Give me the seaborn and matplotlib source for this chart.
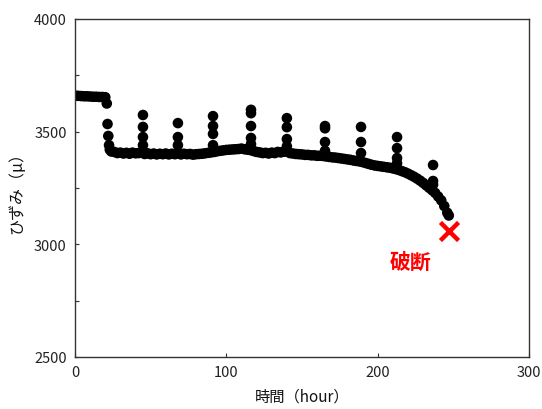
import matplotlib
matplotlib.use("Agg")
import matplotlib.pyplot as plt
import seaborn as sns
import pandas as pd
from matplotlib.ticker import MultipleLocator

# ---- data ----
base_time = [0, 2, 4, 6, 8, 10, 12, 14, 16, 18, 20,
             21, 21.5, 22, 22.5, 23, 24,
             26, 28, 30, 32, 34, 36, 38, 40, 42, 44, 46, 48, 50, 52, 54, 56, 58, 60,
             62, 64, 66, 68, 70, 72, 74, 76, 78, 80, 82, 84, 86, 88, 90, 92, 94, 96,
             98, 100, 102, 104, 106, 108, 110, 112, 114, 116, 118, 120, 122, 124, 126,
             128, 130, 132, 134, 136, 138, 140, 142, 144, 146, 148, 150, 152, 154, 156,
             158, 160, 162, 164, 166, 168, 170, 172, 174, 176, 178, 180, 182, 184, 186,
             188, 190, 192, 194, 196, 198, 200, 202, 204, 206, 208, 210, 212, 214, 216,
             218, 220, 222, 224, 226, 228, 230, 232, 234, 236, 238, 240, 242, 244, 246, 247]
base_strain = [3660, 3659, 3658, 3657, 3657, 3656, 3655, 3655, 3654, 3654, 3653,
               3625, 3534, 3481, 3440, 3420, 3412,
               3410, 3405, 3407, 3403, 3406, 3402, 3407, 3404, 3405, 3408, 3401, 3404, 3400, 3403, 3399, 3402, 3400, 3403,
               3399, 3402, 3400, 3403, 3399, 3402, 3400, 3401, 3398, 3400, 3401, 3402, 3404, 3406, 3408, 3410, 3413, 3415,
               3417, 3419, 3420, 3421, 3422, 3423, 3425, 3422, 3420, 3418, 3414, 3410, 3408, 3405, 3406,
               3403, 3407, 3405, 3410, 3408, 3411, 3412, 3405, 3403, 3401, 3400, 3399, 3397, 3397, 3395,
               3395, 3393, 3393, 3392, 3390, 3388, 3386, 3385, 3383, 3381, 3379, 3377, 3375, 3372, 3370,
               3368, 3365, 3361, 3357, 3353, 3350, 3348, 3346, 3344, 3342, 3340, 3337, 3334, 3330, 3325,
               3320, 3314, 3307, 3300, 3292, 3283, 3273, 3262, 3251, 3240, 3228, 3212, 3195, 3170, 3140, 3128]

spike_time = [44.9, 44.9, 44.9, 44.9,
              68, 68, 68,
              91.2, 91.2, 91.2, 91.2,
              116.3, 116.3, 116.3, 116.3, 116.3,
              140, 140, 140, 140,
              165.2, 165.2, 165.2, 165.2,
              189, 189, 189,
              212.8, 212.8, 212.8, 212.8,
              236.6, 236.6, 236.6]
spike_strain = [3574, 3521, 3476, 3440,
                3538, 3476, 3440,
                3569, 3525, 3490, 3440,
                3597, 3582, 3525, 3472, 3445,
                3560, 3520, 3467, 3435,
                3525, 3515, 3454, 3415,
                3521, 3454, 3405,
                3476, 3427, 3383, 3360,
                3352, 3281, 3265]

break_time = [247]
break_strain = [3059]
break_label = "破断"
x_label = "時間（hour）"
y_label = "ひずみ（μ）"
x_ticks = [0, 100, 200, 300]
y_ticks = [2500, 3000, 3500, 4000]

# ---- figure ----
sns.set_theme(style="white")
plt.rcParams['font.family'] = ['Noto Sans CJK JP', 'DejaVu Sans']

df = pd.DataFrame({"time": base_time + spike_time,
                   "strain": base_strain + spike_strain})

fig = plt.figure(figsize=(5.42, 4.10), dpi=100)
ax = fig.add_axes([75/542, 1-358/410, (529-75)/542, (358-20)/410])

sns.scatterplot(data=df, x="time", y="strain", ax=ax, color="black",
                s=58, edgecolor="none", linewidth=0, legend=False)
sns.scatterplot(x=break_time, y=break_strain, ax=ax, color="red", marker="x",
                s=170, linewidth=3.2, legend=False)
ax.text(221.5, 2924, break_label, color="red", fontsize=15, fontweight="bold",
        ha="center", va="center")

ax.set_xlim(0, 300)
ax.set_ylim(2500, 4000)
ax.set_xticks(x_ticks)
ax.set_yticks(y_ticks)
ax.yaxis.set_minor_locator(MultipleLocator(250))
ax.tick_params(axis="both", which="both", direction="in", labelsize=10.5,
               colors="#333333", labelcolor="#222222")
ax.tick_params(axis="both", which="major", length=3, width=0.8, pad=6)
ax.tick_params(axis="y", which="minor", length=3, width=0.8, left=True)
ax.tick_params(axis="x", bottom=True)
ax.tick_params(axis="y", left=True)
for s in ax.spines.values():
    s.set_visible(True)
    s.set_color("#333333")
    s.set_linewidth(1.0)

ax.set_xlabel(x_label, fontsize=11, color="#111111", labelpad=6)
ax.set_ylabel(y_label, fontsize=11.5, color="#111111", labelpad=6)

fig.savefig("out.png", dpi=100)
